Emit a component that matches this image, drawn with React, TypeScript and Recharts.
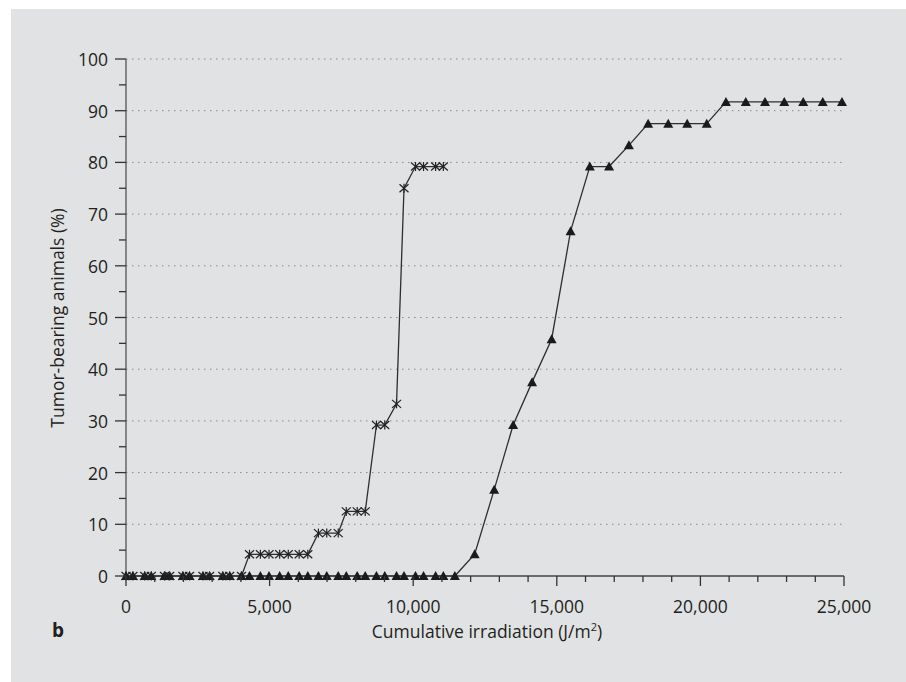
import React from 'react';
import { LineChart, Line, XAxis, YAxis, ReferenceLine, Label } from 'recharts';

const starX = [
  0, 240, 650, 880, 1340, 1520, 1980, 2210, 2680, 2910, 3370, 3610,
  4020, 4300, 4680, 4980, 5350, 5650, 6030, 6330, 6700, 6990, 7390, 7670,
  8050, 8330, 8720, 9010, 9420, 9680, 10080, 10360, 10780, 11050,
];
const starY = [
  0, 0, 0, 0, 0, 0, 0, 0, 0, 0, 0, 0,
  0, 4.2, 4.2, 4.2, 4.2, 4.2, 4.2, 4.2, 8.3, 8.3, 8.3, 12.5,
  12.5, 12.5, 29.2, 29.2, 33.3, 75, 79.2, 79.2, 79.2, 79.2,
];

const triX = [
  0, 240, 650, 880, 1340, 1520, 1980, 2210, 2680, 2910, 3370, 3610,
  4020, 4300, 4680, 4980, 5350, 5650, 6030, 6330, 6700, 6990, 7390, 7670,
  8050, 8330, 8720, 9010, 9420, 9680, 10080, 10360, 10780, 11050, 11450,
  12140, 12820, 13480, 14140, 14820, 15480, 16150, 16820, 17510, 18180,
  18880, 19540, 20220, 20890, 21580, 22250, 22920, 23580, 24260, 24930,
];
const triY = [
  0, 0, 0, 0, 0, 0, 0, 0, 0, 0, 0, 0,
  0, 0, 0, 0, 0, 0, 0, 0, 0, 0, 0, 0,
  0, 0, 0, 0, 0, 0, 0, 0, 0, 0, 0,
  4.2, 16.7, 29.2, 37.5, 45.8, 66.7, 79.2, 79.2, 83.3, 87.5,
  87.5, 87.5, 87.5, 91.7, 91.7, 91.7, 91.7, 91.7, 91.7, 91.7,
];

const xTicks = [
  0, 1000, 2000, 3000, 4000, 5000, 6000, 7000, 8000, 9000, 10000, 11000, 12000,
  13000, 14000, 15000, 16000, 17000, 18000, 19000, 20000, 21000, 22000, 23000, 24000, 25000,
];
const yTicks = [0, 5, 10, 15, 20, 25, 30, 35, 40, 45, 50, 55, 60, 65, 70, 75, 80, 85, 90, 95, 100];
const gridY = [10, 20, 30, 40, 50, 60, 70, 80, 90, 100];

const starData = starX.map((x, i) => ({ x, y: starY[i] }));
const triData = triX.map((x, i) => ({ x, y: triY[i] }));

const FONT = '"Open Sans", sans-serif';
const INK = '#231f20';

const YTick = (props: any) => {
  const { x, y, payload } = props;
  const major = payload.value % 10 === 0;
  return (
    <g>
      <line x1={x - (major ? 11 : 7)} x2={x} y1={y} y2={y} stroke="#333" strokeWidth={1.3} />
      {major && (
        <text x={x - 18} y={y} textAnchor="end" dominantBaseline="central" fontFamily={FONT} fontSize={17.5} fill={INK}>
          {payload.value}
        </text>
      )}
    </g>
  );
};

const XTick = (props: any) => {
  const { x, y, payload } = props;
  const major = payload.value % 5000 === 0;
  return (
    <g>
      <line x1={x} x2={x} y1={y} y2={y + (major ? 10 : 6)} stroke="#333" strokeWidth={1.3} />
      {major && (
        <text x={x} y={y + 30} textAnchor="middle" dominantBaseline="central" fontFamily={FONT} fontSize={17.5} fill={INK}>
          {payload.value.toLocaleString('en-US')}
        </text>
      )}
    </g>
  );
};

const StarDot = ({ cx, cy }: any) => (
  <g stroke="#222" strokeWidth={1.2}>
    <line x1={cx - 4.5} y1={cy - 4} x2={cx + 4.5} y2={cy + 4} />
    <line x1={cx - 4.5} y1={cy + 4} x2={cx + 4.5} y2={cy - 4} />
    <line x1={cx} y1={cy - 4.5} x2={cx} y2={cy + 4.5} />
  </g>
);

const TriDot = ({ cx, cy }: any) => (
  <polygon points={`${cx - 5},${cy + 4} ${cx + 5},${cy + 4} ${cx},${cy - 5}`} fill="#1a1a1a" />
);

export default function App() {
  return (
    <div style={{ position: 'absolute', left: 0, top: 0, width: 906, height: 682, background: '#fff' }}>
      <div style={{ position: 'absolute', left: 11, top: 9, width: 895, height: 673, background: '#e1e2e4' }} />
      <div style={{ position: 'absolute', left: 0, top: 0 }}>
        <LineChart width={906} height={682} margin={{ top: 59, right: 62, bottom: 0, left: 0 }}>
          {gridY.map((v) => (
            <ReferenceLine key={v} y={v} stroke="#8a8a8a" strokeWidth={1} strokeDasharray="1.5 4.5" />
          ))}
          <XAxis
            type="number"
            dataKey="x"
            domain={[0, 25000]}
            ticks={xTicks}
            interval={0}
            height={106}
            tickSize={0}
            tickMargin={0}
            tickLine={false}
            axisLine={{ stroke: '#444', strokeWidth: 1.5 }}
            tick={<XTick />}
          >
            <Label
              content={() => (
                <g fontFamily={FONT} fill={INK}>
                  <text x={487} y={638} textAnchor="middle" fontSize={17.5}>
                    Cumulative irradiation (J/m<tspan dy={-7} fontSize={11}>2</tspan>
                    <tspan dy={7}>)</tspan>
                  </text>
                  <text x={52} y={637} fontSize={19} fontWeight="bold">b</text>
                </g>
              )}
            />
          </XAxis>
          <YAxis
            type="number"
            domain={[0, 100]}
            ticks={yTicks}
            interval={0}
            width={126}
            tickSize={0}
            tickMargin={0}
            tickLine={false}
            axisLine={{ stroke: '#6e6e6e', strokeWidth: 1.6 }}
            tick={<YTick />}
          >
            <Label
              content={() => (
                <text
                  x={57}
                  y={318}
                  transform="rotate(-90 57 318)"
                  textAnchor="middle"
                  dominantBaseline="central"
                  fontFamily={FONT}
                  fontSize={17.5}
                  fill={INK}
                >
                  Tumor-bearing animals (%)
                </text>
              )}
            />
          </YAxis>
          <Line
            data={triData}
            dataKey="y"
            type="linear"
            stroke="#2e2e2e"
            strokeWidth={1.3}
            dot={(p: any) => <TriDot key={`t${p.index}`} cx={p.cx} cy={p.cy} />}
            activeDot={false}
            isAnimationActive={false}
          />
          <Line
            data={starData}
            dataKey="y"
            type="linear"
            stroke="#2e2e2e"
            strokeWidth={1.3}
            dot={(p: any) => <StarDot key={`s${p.index}`} cx={p.cx} cy={p.cy} />}
            activeDot={false}
            isAnimationActive={false}
          />
        </LineChart>
      </div>
    </div>
  );
}
